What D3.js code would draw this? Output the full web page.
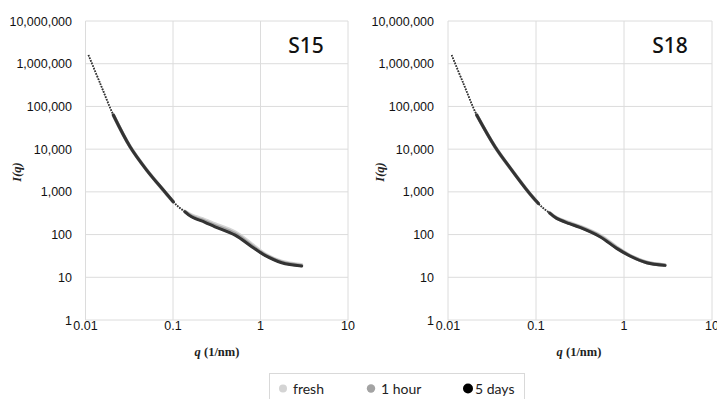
<!DOCTYPE html>
<html>
<head>
<meta charset="utf-8">
<script src="https://cdn.jsdelivr.net/npm/d3@7"></script>
<style>
  body { margin: 0; background: #fff; }
  svg { display: block; }
</style>
</head>
<body>
<svg id="chart" width="717" height="399"></svg>
<script>
// ---- data ----
const xTicks = [0.01, 0.1, 1, 10];
const yTicks = [1, 10, 100, 1000, 10000, 100000, 1000000, 10000000];

const qS15 = [0.0108, 0.0147, 0.0208, 0.0323, 0.050, 0.0775, 0.1007, 0.115, 0.137, 0.163, 0.232, 0.302, 0.512, 0.794, 1.125, 1.746, 2.95];
const s15Fresh = [1.6e6, 3.47e5, 6.3e4, 1.14e4, 3240, 1100, 586, 452, 350, 285, 222, 178, 115, 60, 35, 23.5, 19.8];
const s15Hour  = [1.6e6, 3.47e5, 6.3e4, 1.14e4, 3240, 1100, 586, 450, 346, 270, 205, 163, 104, 55, 33.5, 22.5, 18.8];
const s15Days  = [1.6e6, 3.47e5, 6.3e4, 1.14e4, 3240, 1100, 586, 448, 342, 261, 193, 152, 97, 52, 32.5, 21.9, 18.3];

const qS18 = [0.0110, 0.0150, 0.0212, 0.0342, 0.053, 0.0818, 0.106, 0.12, 0.143, 0.172, 0.24, 0.316, 0.533, 0.826, 1.17, 1.81, 2.92];
const s18Fresh = [1.6e6, 3.4e5, 6.3e4, 1.14e4, 3240, 1000, 538, 422, 322, 246, 190, 156, 96, 51, 32.5, 22.5, 19.4];
const s18Hour  = [1.6e6, 3.4e5, 6.3e4, 1.14e4, 3240, 1000, 538, 421, 321, 242, 184, 150, 92, 49, 32, 22.2, 19.2];
const s18Days  = [1.6e6, 3.4e5, 6.3e4, 1.14e4, 3240, 1000, 538, 420, 320, 239, 180, 147, 89, 47.5, 31.5, 21.9, 19];

const seriesNames = ["fresh", "1 hour", "5 days"];
const seriesColors = ["#d4d4d4", "#a3a3a3", "#333333"];
// q-ranges where the measured points sit so close they read as a solid line
const denseRanges = [[0.02, 0.108], [0.136, 3.2]];

const panels = [
  { label: "S15", q: qS15, series: [s15Fresh, s15Hour, s15Days], left: 85.5, right: 348, yAxisRight: 72, labelX: 306, yTitleX: 17, xTitleX: 217 },
  { label: "S18", q: qS18, series: [s18Fresh, s18Hour, s18Days], left: 448, right: 712, yAxisRight: 434, labelX: 670, yTitleX: 380, xTitleX: 579 }
];

const plotTop = 21, plotBottom = 320;
const svg = d3.select("#chart");
const tickFont = "'Liberation Sans', Arial, sans-serif";
const titleFont = "'Liberation Serif', 'Times New Roman', serif";

function drawPanel(p) {
  const x = d3.scaleLog().domain([0.01, 10]).range([p.left, p.right]);
  const y = d3.scaleLog().domain([1, 1e7]).range([plotBottom, plotTop]);
  const g = svg.append("g");

  // grid
  g.selectAll(".gx").data(xTicks).enter().append("line")
    .attr("x1", d => x(d)).attr("x2", d => x(d))
    .attr("y1", plotTop).attr("y2", plotBottom)
    .attr("stroke", "#dcdcdc").attr("stroke-width", 1);
  g.selectAll(".gy").data(yTicks).enter().append("line")
    .attr("x1", p.left).attr("x2", p.right)
    .attr("y1", d => y(d)).attr("y2", d => y(d))
    .attr("stroke", "#dcdcdc").attr("stroke-width", 1);

  // tick labels
  g.selectAll(".ty").data(yTicks).enter().append("text")
    .attr("x", p.yAxisRight).attr("y", d => y(d) + 4.5)
    .attr("text-anchor", "end")
    .style("font-family", tickFont).style("font-size", "12.5px").attr("fill", "#111")
    .text(d => d3.format(",")(d));
  g.selectAll(".tx").data(xTicks).enter().append("text")
    .attr("x", d => x(d)).attr("y", 330)
    .attr("text-anchor", "middle")
    .style("font-family", tickFont).style("font-size", "12.5px").attr("fill", "#111")
    .text(d => d);

  // axis titles
  const xt = g.append("text").attr("x", p.xTitleX).attr("y", 355.5)
    .attr("text-anchor", "middle")
    .style("font-family", titleFont).style("font-size", "12.5px").style("font-weight", "bold").attr("fill", "#222");
  xt.append("tspan").style("font-style", "italic").text("q");
  xt.append("tspan").text(" (1/nm)");

  g.append("text")
    .attr("transform", `translate(${p.yTitleX + 4},172) rotate(-90)`)
    .attr("text-anchor", "middle")
    .style("font-family", titleFont).style("font-size", "12.5px")
    .style("font-weight", "bold").style("font-style", "italic").attr("fill", "#222")
    .text("I(q)");

  // sample label
  g.append("text").attr("x", p.labelX).attr("y", 53)
    .attr("text-anchor", "middle")
    .style("font-family", "'Noto Sans', sans-serif").style("font-size", "21px")
    .style("font-weight", 500).attr("fill", "#111")
    .text(p.label);

  const line = d3.line()
    .x(d => x(d.q)).y(d => y(d.v))
    .curve(d3.curveCatmullRom.alpha(0.5));

  p.series.forEach((vals, si) => {
    const pts = p.q.map((q, i) => ({ q: q, v: vals[i] }));
    // sparse points -> dotted trace
    g.append("path").datum(pts)
      .attr("d", line).attr("fill", "none")
      .attr("stroke", seriesColors[si]).attr("stroke-width", 1.7)
      .attr("stroke-dasharray", "1.6 1.2");
    // dense points -> solid band
    denseRanges.forEach(r => {
      const sub = pts.filter(d => d.q >= r[0] && d.q <= r[1]);
      g.append("path").datum(sub)
        .attr("d", line).attr("fill", "none")
        .attr("stroke", seriesColors[si]).attr("stroke-width", si === 2 ? 3 : 3.4)
        .attr("stroke-linecap", "round");
    });
  });
}

panels.forEach(drawPanel);

// legend
const legend = svg.append("g");
legend.append("rect")
  .attr("x", 269.5).attr("y", 373.5).attr("width", 255).attr("height", 40)
  .attr("fill", "#fff").attr("stroke", "#d9d9d9");
const legendX = [283, 371, 468];
const legendR = [4, 4.2, 5];
seriesNames.forEach((name, i) => {
  legend.append("circle").attr("cx", legendX[i]).attr("cy", 388.5)
    .attr("r", legendR[i]).attr("fill", i === 2 ? "#000" : seriesColors[i]);
  legend.append("text").attr("x", legendX[i] + (i === 2 ? 7 : 10)).attr("y", 393.5)
    .style("font-family", "Lato, sans-serif").style("font-size", "14px").attr("fill", "#222")
    .text(name);
});
</script>
</body>
</html>
